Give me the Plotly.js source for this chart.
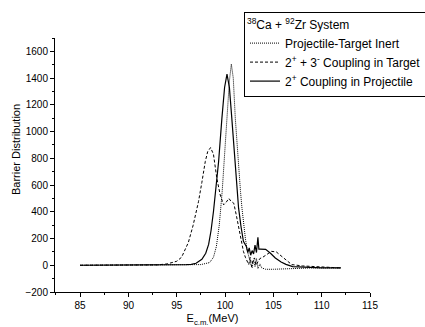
<!DOCTYPE html>
<html><head><meta charset="utf-8">
<script src="https://cdn.plot.ly/plotly-3.0.1.min.js"></script>
<style>html,body{margin:0;padding:0;background:#fff}#chart{width:425px;height:327px}</style>
</head><body><div id="chart"></div>
<script>
// Projectile-Target Inert
const inertE = [85, 90, 95, 97.5, 98.4, 98.8, 99.1, 99.4, 99.7, 100.0, 100.24, 100.45, 100.65, 100.85, 101.06, 101.25, 101.4, 101.6, 101.75, 101.95, 102.1, 102.3, 102.45, 102.65, 102.8, 102.95, 103.1, 103.25, 103.4, 103.6, 103.8, 104.2, 105, 107, 109, 112];
const inertB = [0, 0, 0, 5, 20, 60, 140, 300, 550, 870, 1100, 1380, 1505, 1400, 1100, 880, 724, 550, 427, 290, 203, 110, 55, 10, -20, 40, -10, 50, -25, 10, -20, -30, -30, -25, -20, -20];
// 2+ + 3- Coupling in Target
const targetE = [85, 92, 93, 94, 95, 95.5, 96.2, 96.7, 97.25, 97.6, 97.95, 98.2, 98.5, 98.8, 99.15, 99.5, 99.85, 100.1, 100.4, 100.6, 100.9, 101.15, 101.4, 101.65, 101.9, 102.1, 102.3, 102.45, 102.6, 102.75, 102.9, 103.05, 103.2, 103.4, 103.6, 103.9, 104.3, 104.8, 105.3, 105.8, 106.3, 106.9, 108, 110, 112];
const targetB = [0, 0, 3, 10, 30, 60, 170, 300, 476, 620, 775, 850, 880, 830, 650, 526, 452, 470, 500, 480, 464, 380, 278, 180, 104, 60, 20, 5, 60, -10, 40, 55, 0, 30, 50, 60, 80, 104, 100, 70, 40, 5, -5, -10, -20];
// 2+ Coupling in Projectile
const projE = [85, 94, 95, 96, 96.5, 97, 97.6, 98, 98.3, 98.55, 98.8, 99.05, 99.33, 99.67, 99.95, 100.2, 100.45, 100.7, 100.9, 101.06, 101.25, 101.4, 101.65, 101.9, 102.2, 102.35, 102.5, 102.65, 102.8, 102.95, 103.1, 103.25, 103.4, 103.5, 103.65, 104.2, 104.7, 105.2, 105.8, 106.3, 107, 108, 110, 112];
const projB = [0, 0, 2, 5, 7, 15, 45, 90, 156, 260, 402, 570, 774, 1097, 1330, 1430, 1330, 1097, 900, 724, 560, 427, 290, 179, 141, 95, 130, 75, 110, 85, 150, 95, 210, 120, 120, 119, 90, 55, 25, 7, -10, -15, -20, -20];

const names = ["Projectile-Target Inert", "2<sup>+</sup> + 3<sup>-</sup> Coupling in Target", "2<sup>+</sup> Coupling in Projectile"];
const legendTitle = "<sup>38</sup>Ca + <sup>92</sup>Zr System";
const yTitle = "Barrier Distribution";
const xTitle = "E<sub>c.m.</sub>(MeV)";

const traces = [
  {x: inertE, y: inertB, name: names[0], mode: "lines", line: {color: "#000", width: 1, dash: "1px,1px"}},
  {x: targetE, y: targetB, name: names[1], mode: "lines", line: {color: "#000", width: 1, dash: "3px,2px"}},
  {x: projE, y: projB, name: names[2], mode: "lines", line: {color: "#000", width: 1.2}}
];

const axisCommon = {
  showgrid: false, zeroline: false, showline: true, linecolor: "#000", linewidth: 1,
  ticks: "outside", ticklen: 4, tickcolor: "#000", tickwidth: 1,
  tickfont: {family: "Liberation Sans, Arial, sans-serif", size: 10, color: "#000"}
};

const layout = {
  width: 425, height: 327,
  margin: {l: 55, r: 55, t: 38, b: 35, autoexpand: false},
  paper_bgcolor: "#fff", plot_bgcolor: "#fff",
  font: {family: "Liberation Sans, Arial, sans-serif", size: 11, color: "#000"},
  xaxis: Object.assign({}, axisCommon, {
    range: [82.4, 115], tick0: 85, dtick: 5,
    minor: {dtick: 2.5, tick0: 85, ticks: "outside", ticklen: 2, tickcolor: "#000"},
    title: {text: xTitle, standoff: 4, font: {size: 11}}
  }),
  yaxis: Object.assign({}, axisCommon, {
    range: [-200, 1700], tick0: 0, dtick: 200,
    minor: {dtick: 100, tick0: 0, ticks: "outside", ticklen: 2, tickcolor: "#000"},
    title: {text: ""}
  }),
  annotations: [{
    text: yTitle, textangle: -90, showarrow: false,
    xref: "paper", yref: "paper", x: (16 - 55) / 315, y: (292 - 150) / 254,
    xanchor: "center", yanchor: "middle", font: {size: 11, color: "#000"}
  }],
  showlegend: true,
  legend: {
    xref: "container", yref: "container",
    x: 244/425, y: 1 - 12/327, xanchor: "left", yanchor: "top",
    bordercolor: "#000", borderwidth: 1, bgcolor: "#fff",
    font: {size: 12, color: "#000"},
    title: {text: legendTitle, font: {size: 12}},
    tracegroupgap: 0, itemwidth: 30
  }
};

Plotly.newPlot("chart", traces, layout, {staticPlot: true, displayModeBar: false});
</script></body></html>
